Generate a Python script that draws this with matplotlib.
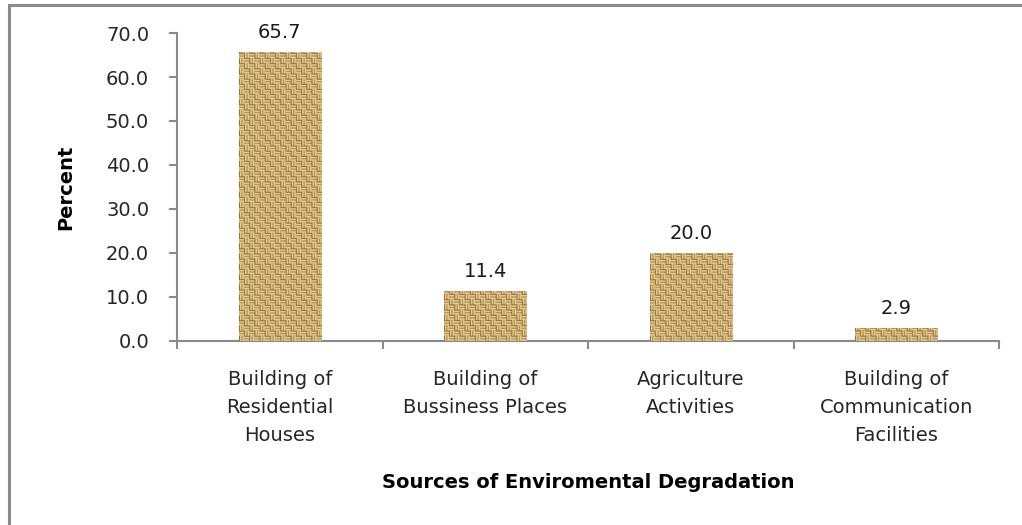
import numpy as np
import matplotlib
matplotlib.use("Agg")
import matplotlib.pyplot as plt
from matplotlib.patches import Rectangle

categories = ["Building of\nResidential\nHouses", "Building of\nBussiness Places",
              "Agriculture\nActivities", "Building of\nCommunication\nFacilities"]
values = [65.7, 11.4, 20.0, 2.9]
value_labels = ["65.7", "11.4", "20.0", "2.9"]
yticks = [0, 10, 20, 30, 40, 50, 60, 70]

plt.rcParams['font.family'] = ['DejaVu Sans']

W, H = 1022, 525
fig = plt.figure(figsize=(W / 100, H / 100), dpi=100)
ax = fig.add_axes([177 / W, 1 - 341 / H, (999 - 177) / W, (341 - 33) / H])

# outer frame (cropped at right/bottom)
fig.patches.append(Rectangle((9 / W, -0.1), 1.2, (1 - 5 / H) + 0.1, transform=fig.transFigure,
                             fill=False, edgecolor='#8a8a8a', linewidth=2.2, zorder=0))

# basket-weave texture
def weave(n=128, cell=8):
    img = np.zeros((n, n, 3))
    base = np.array([0.80, 0.67, 0.43])
    dark = np.array([0.46, 0.33, 0.14])
    mid = np.array([0.66, 0.52, 0.30])
    light = np.array([0.96, 0.89, 0.68])
    for i in range(n):
        for j in range(n):
            bi, bj = i // cell, j // cell
            ii, jj = i % cell, j % cell
            t = ii if (bi + bj) % 2 == 0 else jj
            if t == 0:
                img[i, j] = dark
            elif t == 4:
                img[i, j] = mid
            elif t in (2, 6):
                img[i, j] = light
            else:
                img[i, j] = base
    return img

tex = weave()
x = np.arange(len(values))
bars = ax.bar(x, values, width=0.4, color='#c9ab74', zorder=2)
for b in bars:
    x0, y0 = b.get_x(), b.get_y()
    w, h = b.get_width(), b.get_height()
    reps = max(1, int(np.ceil(h * 4.4 / 82)))
    img = np.tile(tex, (reps, 1, 1))
    im = ax.imshow(img, extent=(x0, x0 + w, y0, y0 + reps * 82 / 4.4), aspect='auto',
                   interpolation='bilinear', zorder=3, origin='upper')
    im.set_clip_path(b)

for xi, v, lab in zip(x, values, value_labels):
    ax.annotate(lab, (xi, v), xytext=(0, 10), textcoords='offset points',
                ha='center', va='baseline', fontsize=14, color='#1a1a1a')

ax.set_xlim(-0.5, len(values) - 0.5)
ax.set_ylim(0, 70)
ax.set_yticks(yticks)
ax.set_yticklabels([f"{t:.1f}" for t in yticks])
ax.set_xticks(x)
ax.set_xticklabels(categories, linespacing=1.6)
ax.set_xticks(np.arange(len(values) + 1) - 0.5, minor=True)
ax.tick_params(axis='x', which='major', length=0, pad=21, labelsize=14, labelcolor='#262626')
ax.tick_params(axis='x', which='minor', length=6, width=1.5, color='#8a8a8a', direction='out')
ax.tick_params(axis='y', length=6, width=1.5, color='#8a8a8a', direction='out', pad=14,
               labelsize=14, labelcolor='#262626')

for s in ['top', 'right']:
    ax.spines[s].set_visible(False)
for s in ['left', 'bottom']:
    ax.spines[s].set_color('#8a8a8a')
    ax.spines[s].set_linewidth(1.5)

ax.set_ylabel("Percent", fontsize=14, fontweight='bold', labelpad=22)
ax.set_xlabel("Sources of Enviromental Degradation", fontsize=14, fontweight='bold', labelpad=20)

fig.savefig("out.png", dpi=100)
